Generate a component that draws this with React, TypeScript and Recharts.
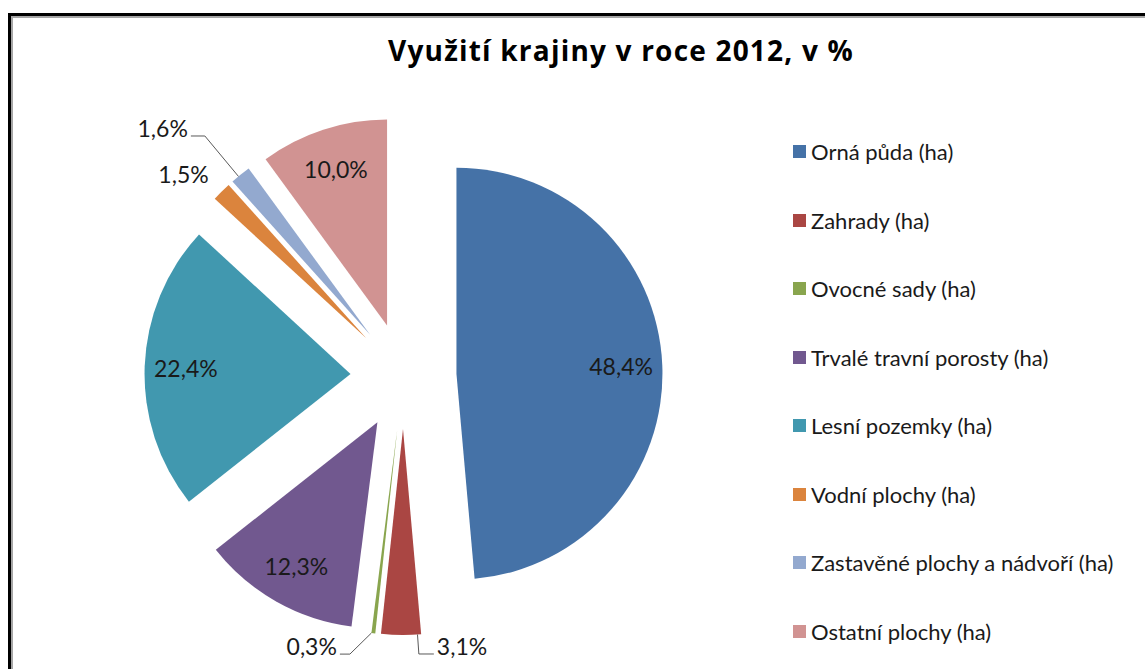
import React from 'react';
import { PieChart, Pie, Cell, Legend, Sector } from 'recharts';

const categories = [
  'Orná půda (ha)',
  'Zahrady (ha)',
  'Ovocné sady (ha)',
  'Trvalé travní porosty (ha)',
  'Lesní pozemky (ha)',
  'Vodní plochy (ha)',
  'Zastavěné plochy a nádvoří (ha)',
  'Ostatní plochy (ha)',
];
const shares = [48.4, 3.1, 0.3, 12.3, 22.4, 1.5, 1.6, 10.0];
const colors = ['#4572A7', '#AA4643', '#89A54E', '#71588F', '#4198AF', '#DB843D', '#93A9CF', '#D19392'];
const title = 'Využití krajiny v roce 2012, v %';

const data = categories.map((name, i) => ({ name, value: shares[i] }));

// style / layout config
const FONT = 'Lato, "Open Sans", sans-serif';
const TITLE_FONT = '"Open Sans", Lato, sans-serif';
const EXPLODE = 53;
const RAD = Math.PI / 180;
const OUTSIDE_LABELS: Record<string, { leader: number; shift: number; tail: number; side: number; line: boolean }> = {
  'Zahrady (ha)': { leader: 19, shift: 18, tail: 15, side: 1, line: true },
  'Ovocné sady (ha)': { leader: 21, shift: -21, tail: 10, side: -1, line: true },
  'Vodní plochy (ha)': { leader: 14, shift: 0, tail: 0, side: -1, line: false },
  'Zastavěné plochy a nádvoří (ha)': { leader: 50, shift: -4, tail: 14, side: -1, line: true },
};

const dir = (angle: number) => ({ x: Math.cos(-angle * RAD), y: Math.sin(-angle * RAD) });
const fmt = (v: number) => `${v.toFixed(1).replace('.', ',')}%`;

const ExplodedSector = (props: any) => {
  const { cx, cy, midAngle, innerRadius, outerRadius, startAngle, endAngle, fill } = props;
  const d = dir(midAngle);
  return (
    <Sector
      cx={cx + EXPLODE * d.x}
      cy={cy + EXPLODE * d.y}
      innerRadius={innerRadius}
      outerRadius={outerRadius}
      startAngle={startAngle}
      endAngle={endAngle}
      fill={fill}
      stroke="none"
    />
  );
};

const labelStyle = { fontFamily: FONT, fontSize: 23, fill: '#1a1a1a' };

const renderLabel = (props: any) => {
  const { cx, cy, midAngle, outerRadius, startAngle, endAngle, value, name } = props;
  const d = dir(midAngle);
  const ax = cx + EXPLODE * d.x;
  const ay = cy + EXPLODE * d.y;
  const cfg = OUTSIDE_LABELS[name];
  if (!cfg) {
    const r = outerRadius * 0.8;
    return (
      <text x={ax + r * d.x} y={ay + r * d.y} textAnchor="middle" dominantBaseline="central" style={labelStyle}>
        {fmt(value)}
      </text>
    );
  }
  const px = ax + (outerRadius + cfg.leader) * d.x + cfg.shift;
  const py = ay + (outerRadius + cfg.leader) * d.y;
  // leader starts at the point of the slice's outer arc closest to the elbow
  const lo = Math.min(startAngle, endAngle);
  const hi = Math.max(startAngle, endAngle);
  let a = Math.atan2(-(py - ay), px - ax) / RAD;
  const cand = [a, a + 360, a - 360].find((v) => v >= lo - 0.001 && v <= hi + 0.001);
  if (cand !== undefined) a = cand;
  else {
    const opts = [a, a + 360, a - 360];
    let best = lo;
    let bestD = Infinity;
    for (const o of opts) {
      for (const e of [lo, hi]) {
        if (Math.abs(o - e) < bestD) {
          bestD = Math.abs(o - e);
          best = e;
        }
      }
    }
    a = best;
  }
  const sd = dir(a);
  const sx = ax + outerRadius * sd.x;
  const sy = ay + outerRadius * sd.y;
  const tx = px + cfg.side * cfg.tail;
  return (
    <g>
      {cfg.line && (
        <polyline points={`${sx},${sy} ${px},${py} ${tx},${py}`} fill="none" stroke="#595959" strokeWidth={1} />
      )}
      <text
        x={tx + cfg.side * 3}
        y={py - 8}
        textAnchor={cfg.side > 0 ? 'start' : 'end'}
        dominantBaseline="central"
        style={labelStyle}
      >
        {fmt(value)}
      </text>
    </g>
  );
};

const renderLegend = (props: any) => {
  const payload = [...(props.payload || [])].sort(
    (p: any, q: any) => categories.indexOf(p.value) - categories.indexOf(q.value)
  );
  return (
    <div>
      {payload.map((p: any) => (
        <div key={p.value} style={{ height: 68.5, display: 'flex', alignItems: 'center' }}>
          <span style={{ display: 'inline-block', width: 13, height: 13, background: p.color, marginRight: 5 }} />
          <span style={{ fontFamily: FONT, fontSize: 22, color: '#1a1a1a', whiteSpace: 'nowrap' }}>{p.value}</span>
        </div>
      ))}
    </div>
  );
};

export default function App() {
  return (
    <div style={{ position: 'fixed', left: 0, top: 0, width: 1145, height: 669, overflow: 'hidden', background: '#fff' }}>
      <div
        style={{
          position: 'absolute',
          left: 8,
          top: 13,
          width: 1300,
          height: 800,
          border: '3px solid #000',
          boxShadow: 'inset 0 0 0 2px #a6a6a6',
          boxSizing: 'border-box',
        }}
      />
      <div
        style={{
          position: 'absolute',
          left: 221,
          width: 800,
          top: 33,
          textAlign: 'center',
          fontFamily: TITLE_FONT,
          fontWeight: 700,
          fontSize: 28,
          letterSpacing: 1.2,
          lineHeight: '34px',
          color: '#000',
        }}
      >
        {title}
      </div>
      <div style={{ position: 'absolute', left: 0, top: 0 }}>
        <PieChart width={1145} height={669} margin={{ top: 0, right: 0, bottom: 0, left: 0 }}>
          <Pie
            data={data}
            dataKey="value"
            nameKey="name"
            cx={403.5}
            cy={376}
            outerRadius={206}
            startAngle={90}
            endAngle={-270}
            stroke="none"
            isAnimationActive={false}
            shape={ExplodedSector}
            activeShape={ExplodedSector}
            inactiveShape={ExplodedSector}
            label={renderLabel}
            labelLine={false}
          >
            {data.map((d, i) => (
              <Cell key={d.name} fill={colors[i]} />
            ))}
          </Pie>
          <Legend
            layout="vertical"
            align="right"
            verticalAlign="top"
            content={renderLegend}
            wrapperStyle={{ left: 793, right: 'auto', top: 117.5, width: 350 }}
          />
        </PieChart>
      </div>
    </div>
  );
}
